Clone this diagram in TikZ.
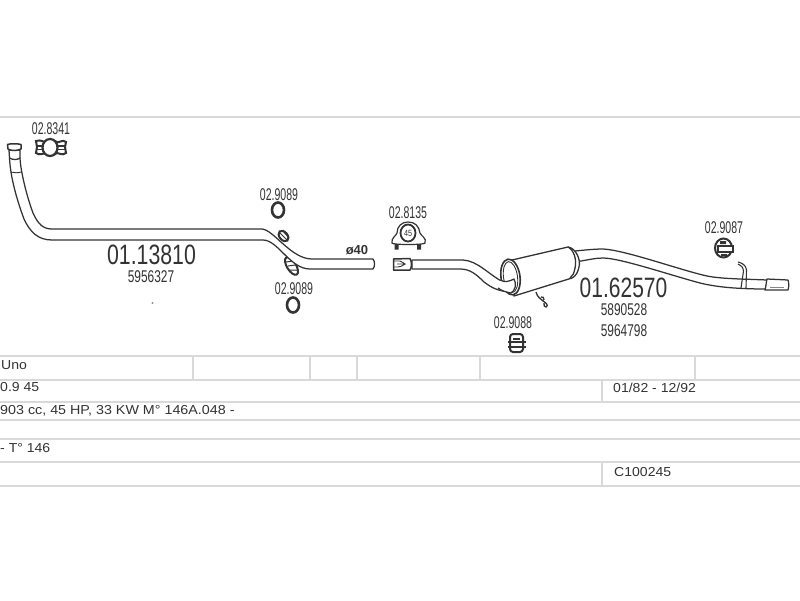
\documentclass[tikz,border=0pt]{standalone}
\usepackage{fontspec}
\usepackage{graphicx}
\setmainfont{Liberation Sans}
\definecolor{ink}{HTML}{333333}
\definecolor{rule}{HTML}{D9D9D9}
\newcommand\cond[2]{\scalebox{#1}[1]{#2}}
\tikzset{
  ruleline/.style={draw=rule,line width=2.6pt},
  ruletick/.style={draw=rule,line width=1.2pt},
  pipe/.style={draw=ink,line width=1.25pt,fill=white,line join=round},
  thin part/.style={draw=ink,line width=.9pt,fill=none},
  code/.style={text=ink,inner sep=0pt,font=\fontsize{17}{17}\selectfont},
  big code/.style={text=ink,inner sep=0pt,font=\fontsize{28}{28}\selectfont},
  cell/.style={text=ink,inner sep=0pt,anchor=west,font=\fontsize{13}{13}\selectfont}
}
\begin{document}
\begin{tikzpicture}[x=1pt,y=-1pt]
\useasboundingbox (0,0) rectangle (800,600);
\fill[white] (0,0) rectangle (800,600);
% rules
\draw[ruleline] (0,117) -- (800,117);
\foreach \yy in {356,380,402,420,439,462,486} \draw[ruleline] (0,\yy) -- (800,\yy);
\foreach \xx in {193,310,357,480,695} \draw[ruletick] (\xx,356) -- (\xx,380);
\draw[ruletick] (602,380) -- (602,402);
\draw[ruletick] (602,462) -- (602,486);
% clamps behind the front pipe
\draw[draw=ink,line width=2pt,fill=white,rotate around={-50:(283.5,236)}] (283.5,236) ellipse (6 and 4);
\draw[draw=ink,line width=1pt] (280,233) -- (287,240) (283,231) -- (289,238);
\draw[draw=ink,line width=2pt,fill=white,rotate around={-58:(291.5,266)}] (291.5,266) ellipse (10 and 4.5);
\draw[draw=ink,line width=1pt] (286,262) -- (293,261) (288,266) -- (295,265) (290,270) -- (297,270);
% front pipe
\draw[pipe] (20,158) .. controls (20.5,170) and (26,194) .. (33,213) .. controls (38,224) and (43,229) .. (52,229)
  -- (262,229) .. controls (274,230) and (291,259) .. (312,259) -- (373,259)
  .. controls (375,261) and (375,267) .. (373,269) -- (310,269)
  .. controls (290,269) and (278,240) .. (263,240) -- (52,240)
  .. controls (38,240) and (30,232) .. (24,219) .. controls (17,200) and (10.5,178) .. (9.5,158) -- cycle;
\draw[thin part] (10.5,172) .. controls (14,173) and (18,173) .. (21,172);
\draw[pipe] (9,150) -- (9.5,158) .. controls (13,160) and (17,160) .. (20,158) -- (20,150) -- cycle;
\draw[pipe,line width=1.5pt] (7.5,144.5) .. controls (10,143.5) and (18,143.5) .. (21,144.5) -- (21,149)
  .. controls (17,151) and (11,151) .. (8,149) -- cycle;
% rings
\draw[draw=ink,line width=2.6pt] (278,210) ellipse (6 and 7.5);
\draw[draw=ink,line width=2.6pt] (293,305) ellipse (6 and 7.5);
% clamp 02.8341
\draw[draw=ink,line width=2pt,fill=white] (36,141) .. controls (41,139) and (44,143) .. (47,142) .. controls (50,140) and (54,140) .. (57,142) .. controls (60,143) and (62,139) .. (66,142) -- (65,147) -- (66,153) .. controls (62,156) and (60,153) .. (57,153) .. controls (53,156) and (49,156) .. (46,153) .. controls (43,153) and (40,156) .. (36,153) -- (37,147) -- cycle;
\draw[draw=ink,line width=1.6pt] (37,146) -- (43,146) (37,149.5) -- (43,149.5) (58,146) -- (65,146) (58,149.5) -- (65,149.5);
\draw[draw=ink,line width=2.2pt,fill=white] (50,147.5) ellipse (7.5 and 8.5);
% clamp 02.8135
\draw[draw=ink,line width=1.2pt,fill=white] (392,243) .. controls (391,238) and (396,236) .. (397,233) .. controls (397,226) and (402,222) .. (408,222) .. controls (415,222) and (419,226) .. (420,233) .. controls (421,236) and (427,238) .. (425,243) .. controls (425,245) and (392,245) .. (392,243) -- cycle;
\draw[draw=ink,line width=1.8pt,fill=white] (408,233) ellipse (7.5 and 8.5);
\node[text=ink,inner sep=0pt,font=\fontsize{9}{9}\selectfont] (clampsize) at (408,233) {\cond{.8}{45}};
\fill[ink] (394.5,244) rectangle (398.5,249.5) (417,244) rectangle (421,249.5);
% rear section: pipe in
\draw[pipe] (412,260) -- (463,260) .. controls (478,261) and (488,274) .. (503,282) -- (510,292)
  .. controls (498,291) and (492,288) .. (484,282) .. controls (476,274) and (470,269) .. (460,269) -- (412,269) -- cycle;
\draw[pipe,line width=1.5pt] (393.5,259) -- (410,258.5) .. controls (412,262) and (412,267) .. (410,270) -- (393.5,270) -- cycle;
\draw[thin part] (393,261) -- (400,261) .. controls (402,262) and (404,263) .. (405,264) -- (397,264) (405,264) .. controls (402,266) and (400,267) .. (398,267) -- (393,267);
% tail pipe
\draw[pipe] (575,251) .. controls (585,250) and (595,249) .. (603,249) .. controls (625,250) and (680,270) .. (707,276)
  .. controls (722,279) and (745,279) .. (767,280) -- (767,289)
  .. controls (745,289) and (720,288) .. (700,283) .. controls (670,275) and (620,258) .. (603,258)
  .. controls (595,258) and (588,260) .. (575,262) -- cycle;
\draw[pipe] (767,279) -- (788,280) .. controls (789,283) and (789,287) .. (788,290) -- (765,290) .. controls (766,287) and (766,283) .. (767,279) -- cycle;
\draw[draw=ink!60,line width=.8pt] (770,287) -- (784,287);
% strap
\draw[draw=ink,line width=1.1pt] (738,262) .. controls (742,263) and (746,265) .. (746.5,270) -- (746,288);
\draw[draw=ink,line width=1.1pt] (738,264) .. controls (741,265) and (743,267) .. (743.5,271) -- (741,288);
% muffler
\draw[pipe,line width=1.3pt] (512,260) -- (568,247) .. controls (576,248) and (581,260) .. (579,267) .. controls (578,272) and (576,276) .. (572,278) -- (514,296) -- cycle;
\draw[draw=ink,line width=1.3pt] (568,247) .. controls (574,250) and (577,260) .. (575,268) .. controls (574,273) and (573,276) .. (570,278);
\draw[draw=ink,line width=1.6pt,fill=white,rotate around={8:(510.5,277)}] (510.5,277) ellipse (9.5 and 18);
\draw[draw=ink,line width=.9pt,rotate around={8:(510.5,277)}] (510.5,277) ellipse (7 and 15.5);
\draw[pipe] (500,280) .. controls (505,283) and (510,281) .. (514,279) .. controls (517,284) and (515,291) .. (511,293) .. controls (506,292) and (502,291) .. (498,288);
% hook
\draw[draw=ink,line width=1.3pt] (536,292) .. controls (537,297) and (541,299) .. (543,301) .. controls (546,303) and (549,305) .. (546,307) .. controls (544,308) and (544,305) .. (544,303) (541,297) .. controls (543,296) and (544,298) .. (544,300);
% clamp 02.9087
\draw[draw=ink,line width=2pt,fill=white] (723.5,248) ellipse (8.5 and 9.5);
\draw[draw=ink,fill=white,line width=1.3pt] (718,246) -- (733,246) -- (733,252) -- (718,252) -- cycle;
\fill[ink] (720,241) rectangle (726,244) (721,254) rectangle (727,256);
% clamp 02.9088
\draw[draw=ink,line width=2pt,fill=white,rounded corners=3pt] (510,334) rectangle (523,352);
\draw[draw=ink,line width=1.4pt] (508,342) -- (526,342) (508,347) -- (526,347);
\fill[ink] (513,338) rectangle (520,340);
% labels
\node[code] (lab8341) at (51,129) {\cond{.62}{02.8341}};
\node[big code] (labpipe) at (151.5,255) {\cond{.76}{01.13810}};
\node[code] (oe1) at (151,277) {\cond{.7}{5956327}};
\node[code] (lab9089a) at (279,195) {\cond{.62}{02.9089}};
\node[code] (lab9089b) at (294,289) {\cond{.62}{02.9089}};
\node[text=ink,inner sep=0pt,font=\bfseries\fontsize{13}{13}\selectfont] (dia) at (357,250.5) {ø40};
\node[code] (lab8135) at (408,213) {\cond{.62}{02.8135}};
\node[code] (lab9087) at (724,228) {\cond{.62}{02.9087}};
\node[code] (lab9088) at (513,323) {\cond{.62}{02.9088}};
\node[big code] (labmuff) at (623.5,287.5) {\cond{.75}{01.62570}};
\node[code] (oe2) at (624,310) {\cond{.7}{5890528}};
\node[code] (oe3) at (624,331) {\cond{.7}{5964798}};
\fill[ink!55] (152.5,303) circle (1.2);
% table text
\node[cell] (t1) at (1,365) {\cond{1.08}{Uno}};
\node[cell] (t2) at (0,387.5) {\cond{1.08}{0.9 45}};
\node[cell] (t3) at (0,411) {\cond{1.1}{903 cc, 45 HP, 33 KW M° 146A.048 -}};
\node[cell] (t4) at (0,448) {\cond{1.08}{- T° 146}};
\node[cell] (t5) at (613,387.5) {\cond{1.08}{01/82 - 12/92}};
\node[cell] (t6) at (614,472) {\cond{1.08}{C100245}};
\end{tikzpicture}
\end{document}
